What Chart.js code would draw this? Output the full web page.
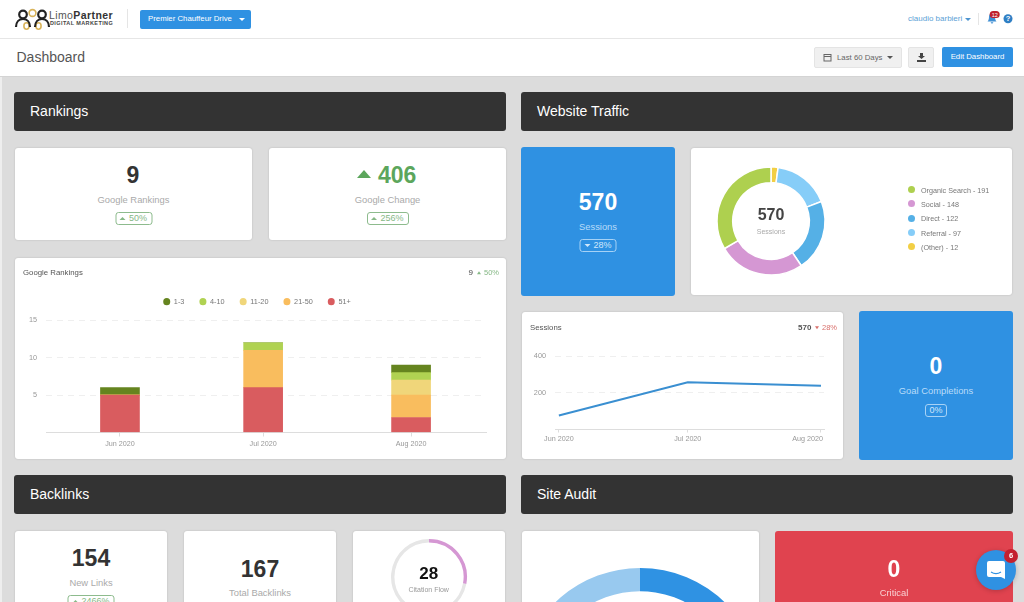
<!DOCTYPE html>
<html lang="en">
  <head>
    <meta charset="UTF-8" />
    <title>Dashboard</title>
    <script src="https://cdn.jsdelivr.net/npm/chart.js"></script>
    <style>
      * { box-sizing: border-box; }
      html, body { margin: 0; height: 100%; overflow: hidden; }
      body {
        width: 1024px;
        height: 602px;
        position: relative;
        background: #dcdcdc;
        font-family: "Liberation Sans", Arial, sans-serif;
        color: #333;
      }
      .abs { position: absolute; }
      .t { position: absolute; white-space: nowrap; line-height: 1; transform: translateY(-50%); }
      .c { transform: translate(-50%, -50%); }
      .bar { position: absolute; height: 39px; background: #333; border-radius: 3px; color: #fff; font-size: 14px; line-height: 39px; padding-left: 16px; }
      .card { position: absolute; background: #fff; border-radius: 3px; box-shadow: 0 0 2px rgba(0,0,0,.18); overflow: hidden; }
      .blue { background: #2f91e2; box-shadow: none; }
      .num { font-size: 23px; font-weight: bold; }
      .lbl { font-size: 9.4px; color: #aaa; }
      .pill { position: absolute; height: 13px; border: 1px solid #8dbb8d; border-radius: 3px; font-size: 9px; line-height: 11px; text-align: center; color: #86b886; transform: translateX(-50%); white-space: nowrap; }
      .pill.w { border-color: #a6d2f6; color: #cfe7fb; }
      .up, .down { display: inline-block; width: 0; height: 0; border-left: 3px solid transparent; border-right: 3px solid transparent; vertical-align: 1px; margin-right: 3px; }
      .up { border-bottom: 3px solid currentColor; }
      .down { border-top: 3px solid currentColor; }
      .btn { position: absolute; border-radius: 2px; }
      #trafficLegend { position: absolute; left: 908px; top: 183.7px; font-size: 7.2px; color: #777; }
      #trafficLegend div { height: 14.3px; line-height: 14.3px; white-space: nowrap; }
      #trafficLegend i { display: inline-block; width: 7px; height: 7px; border-radius: 50%; margin-right: 6px; vertical-align: -0.5px; }
    </style>
  </head>
  <body>
    <!-- top bar -->
    <div class="abs" style="left:0;top:77px;width:1.500px;height:525px;background:#eee"></div>
    <div class="abs" style="left:0;top:0;width:1024px;height:77px;background:#fff;border-bottom:1px solid #d4d4d4"></div>
    <div class="abs" style="left:0;top:38px;width:1024px;height:1px;background:#e6e6e6"></div>
    <svg class="abs" style="left:14px;top:8px" width="37" height="22" viewBox="0 0 37 22">
      <g fill="none" stroke="#d9b45b" stroke-width="1.600">
        <circle cx="18.500" cy="5" r="3.400" />
        <ellipse cx="12.500" cy="18" rx="2.600" ry="3.200" /><ellipse cx="24.500" cy="18" rx="2.600" ry="3.200" />
      </g>
      <g fill="none" stroke="#222" stroke-width="2.200">
        <circle cx="9" cy="6.500" r="3.800" /><circle cx="28" cy="6.500" r="3.800" />
        <path d="M2 19c0-5 3-8 7-8s7 3 7 8" /><path d="M21 19c0-5 3-8 7-8s7 3 7 8" />
      </g>
    </svg>
    <div class="t" style="left:49px;top:15px;font-size:10.500px;color:#555;letter-spacing:.4px">Limo<b style="color:#333">Partner</b></div>
    <div class="t" style="left:50px;top:23.500px;font-size:5.500px;font-weight:bold;color:#444;letter-spacing:.4px">DIGITAL MARKETING</div>
    <div class="abs" style="left:127px;top:9px;width:1px;height:19px;background:#e5e5e5"></div>
    <div class="btn" style="left:140px;top:10px;width:111px;height:18.500px;background:#2f91e2"></div>
    <div class="t" style="left:148px;top:18.700px;font-size:7.800px;color:#fff">Premier Chauffeur Drive</div>
    <div class="abs" style="left:239px;top:18px;border:3px solid transparent;border-top-color:#fff"></div>
    <div class="t" style="left:908px;top:18.700px;font-size:8px;color:#5c9fd6">claudio barbieri</div>
    <div class="abs" style="left:964.500px;top:17.500px;border:3px solid transparent;border-top-color:#4d94cf"></div>
    <div class="abs" style="left:978px;top:13px;width:1px;height:12px;background:#e5e5e5"></div>
    <svg class="abs" style="left:985px;top:10px" width="30" height="16" viewBox="0 0 30 16">
      <path d="M2.500 11.500c1-1 1.500-2.500 1.500-5 0-1.800 1.300-3 3-3s3 1.200 3 3c0 2.500.5 4 1.500 5zM5.700 12.300h2.600a1.300 1.300 0 0 1-2.600 0z" fill="#3f8fd3" />
      <circle cx="23" cy="8.700" r="4.500" fill="#2f7fc4" />
      <text x="23" y="11.400" font-size="7.500" font-weight="bold" text-anchor="middle" fill="#fff" font-family="Liberation Sans">?</text>
      <rect x="4.700" y="1" width="10" height="7" rx="3.500" fill="#c0202c" />
      <text x="9.700" y="6.500" font-size="5.500" text-anchor="middle" fill="#fff" font-family="Liberation Sans">12</text>
    </svg>

    <div class="t" style="left:16.500px;top:57px;font-size:14px;color:#555">Dashboard</div>
    <div class="btn" style="left:814px;top:47px;width:88px;height:21px;background:#f0f0f0;border:1px solid #e4e4e4"></div>
    <svg class="abs" style="left:823px;top:53px" width="9" height="9" viewBox="0 0 9 9">
      <rect x="1" y="1.500" width="7" height="6.500" fill="none" stroke="#666" stroke-width="1" /><line x1="1" y1="3.500" x2="8" y2="3.500" stroke="#666" />
    </svg>
    <div class="t" style="left:837px;top:57.500px;font-size:7.800px;color:#666">Last 60 Days</div>
    <div class="abs" style="left:887px;top:56px;border:3px solid transparent;border-top-color:#555"></div>
    <div class="btn" style="left:908px;top:47px;width:26px;height:21px;background:#f0f0f0;border:1px solid #e4e4e4"></div>
    <svg class="abs" style="left:917px;top:53px" width="9" height="9" viewBox="0 0 9 9">
      <path d="M3 0h3v3h2L4.500 6 1 3h2zM0 7h9v2H0z" fill="#444" />
    </svg>
    <div class="btn" style="left:942px;top:47px;width:71px;height:20px;background:#2f91e2"></div>
    <div class="t c" style="left:977.500px;top:56.500px;font-size:7.800px;color:#fff">Edit Dashboard</div>

    <!-- section bars -->
    <div class="bar" style="left:14px;top:92px;width:492px">Rankings</div>
    <div class="bar" style="left:521px;top:92px;width:492px">Website Traffic</div>
    <div class="bar" style="left:14px;top:475px;width:492px">Backlinks</div>
    <div class="bar" style="left:521px;top:475px;width:492px">Site Audit</div>

    <!-- rankings -->
    <div class="card" style="left:15px;top:148px;width:237px;height:92px"></div>
    <div class="t c num" style="left:133px;top:175px">9</div>
    <div class="t c lbl" style="left:133.500px;top:199.500px">Google Rankings</div>
    <div class="pill" style="left:133.500px;top:212px;width:37px"><span class="up"></span>50%</div>

    <div class="card" style="left:269px;top:148px;width:237px;height:92px"></div>
    <div class="abs" style="left:357px;top:170px;border-left:7.500px solid transparent;border-right:7.500px solid transparent;border-bottom:8px solid #5ca65c"></div>
    <div class="t num" style="left:378px;top:175px;color:#5ca65c">406</div>
    <div class="t c lbl" style="left:387.500px;top:199.500px">Google Change</div>
    <div class="pill" style="left:387.500px;top:212px;width:42px"><span class="up"></span>256%</div>

    <div class="card" style="left:15px;top:258px;width:491px;height:201px">
      <canvas id="rankingsChart" width="491" height="201"></canvas>
    </div>
    <div class="t" style="left:23px;top:272.500px;font-size:7.800px;color:#555">Google Rankings</div>
    <div class="t" style="left:468.500px;top:272.500px;font-size:8px;color:#444">9</div>
    <div class="t" style="left:477px;top:272.500px;font-size:7.500px;color:#86b886"><span class="up" style="border-left-width:2px;border-right-width:2px"></span>50%</div>

    <!-- website traffic -->
    <div class="card blue" style="left:521px;top:147px;width:154px;height:149px"></div>
    <div class="t c num" style="left:598px;top:202px;color:#fff">570</div>
    <div class="t c lbl" style="left:598px;top:226.500px;color:#b9dcf9">Sessions</div>
    <div class="pill w" style="left:598px;top:239px;width:37px"><span class="down"></span>28%</div>

    <div class="card" style="left:691px;top:148px;width:321px;height:147px">
      <canvas id="trafficChart" width="120" height="120" style="position:absolute;left:20px;top:13.300px"></canvas>
    </div>
    <div class="t c" style="left:771px;top:215px;font-size:16px;font-weight:bold;color:#444">570</div>
    <div class="t c" style="left:771px;top:230.500px;font-size:7px;color:#aaa">Sessions</div>
    <div id="trafficLegend"></div>

    <div class="card" style="left:522px;top:312px;width:321px;height:147px">
      <canvas id="sessionsChart" width="321" height="147"></canvas>
    </div>
    <div class="t" style="left:530px;top:327.500px;font-size:7.800px;color:#555">Sessions</div>
    <div class="t" style="left:798px;top:327.500px;font-size:8px;font-weight:bold;color:#555">570</div>
    <div class="t" style="left:815px;top:327.500px;font-size:7.500px;color:#d9706c"><span class="down" style="border-left-width:2px;border-right-width:2px"></span>28%</div>

    <div class="card blue" style="left:859px;top:311px;width:154px;height:149px"></div>
    <div class="t c num" style="left:936px;top:366px;color:#fff">0</div>
    <div class="t c lbl" style="left:936px;top:391px;color:#b9dcf9">Goal Completions</div>
    <div class="pill w" style="left:936px;top:403.500px;width:22px">0%</div>

    <!-- backlinks -->
    <div class="card" style="left:15px;top:531px;width:152px;height:90px"></div>
    <div class="t c num" style="left:91px;top:558px">154</div>
    <div class="t c lbl" style="left:91px;top:582.500px">New Links</div>
    <div class="pill" style="left:91px;top:595px;width:47px"><span class="up"></span>2466%</div>

    <div class="card" style="left:184px;top:531px;width:152px;height:90px"></div>
    <div class="t c num" style="left:260px;top:568.500px">167</div>
    <div class="t c lbl" style="left:260px;top:592.500px">Total Backlinks</div>

    <div class="card" style="left:353px;top:531px;width:152px;height:90px">
      <canvas id="citationChart" width="80" height="80" style="position:absolute;left:35.700px;top:6px"></canvas>
    </div>
    <div class="t c" style="left:428.700px;top:573px;font-size:17px;font-weight:bold;color:#111">28</div>
    <div class="t c" style="left:428.700px;top:588.500px;font-size:7px;color:#999">Citation Flow</div>

    <!-- site audit -->
    <div class="card" style="left:522px;top:531px;width:237px;height:90px">
      <canvas id="auditChart" width="244" height="244" style="position:absolute;left:-3.700px;top:37.300px"></canvas>
    </div>
    <div class="card" style="left:775px;top:531px;width:238px;height:90px;background:#e0434f;box-shadow:none"></div>
    <div class="t c num" style="left:894px;top:568.500px;color:#fff">0</div>
    <div class="t c" style="left:894px;top:593px;font-size:9.400px;color:#f8cfd2">Critical</div>

    <!-- chat bubble -->
    <div class="abs" style="left:976px;top:550px;width:40px;height:40px;border-radius:50%;background:#2f91e2;box-shadow:0 1px 5px rgba(0,0,0,.2)"></div>
    <svg class="abs" style="left:986px;top:560px" width="20" height="20" viewBox="0 0 20 20">
      <path d="M3 1h14a2 2 0 0 1 2 2v16l-4-2H3a2 2 0 0 1-2-2V3a2 2 0 0 1 2-2z" fill="#fff" />
      <path d="M5 12c3 2 7 2 10 0" fill="none" stroke="#2f91e2" stroke-width="1.200" />
    </svg>
    <div class="abs" style="left:1004px;top:549px;width:14px;height:14px;border-radius:50%;background:#c4202f"></div>
    <div class="t c" style="left:1011px;top:556px;font-size:7.500px;font-weight:bold;color:#fff">6</div>

    <script>
      // rankings chart
      const months = ["Jun 2020", "Jul 2020", "Aug 2020"];
      const monthDays = [0, 30, 61]; // days since Jun 1, bars sit on a time-like axis
      const rank1to3 = [1, 0, 1];
      const rank4to10 = [0, 1, 1];
      const rank11to20 = [0, 0, 2];
      const rank21to50 = [0, 5, 3];
      const rank51plus = [5, 6, 2];

      // sessions line
      const sessions = [76, 257, 238];

      // traffic donut, in legend order
      const channels = ["Organic Search", "Social", "Direct", "Referral", "(Other)"];
      const channelSessions = [191, 148, 122, 97, 12];
      const channelColors = ["#aed04f", "#d597d3", "#55b0e6", "#86cdf8", "#f2cf45"];

      // citation flow ring and site audit donut
      const citationFlow = [28, 72];
      const auditSplit = [55, 45];

      const FONT = "'Liberation Sans', Arial, sans-serif";
      Chart.defaults.font.family = FONT;
      Chart.defaults.animation = false;
      Chart.defaults.responsive = false;

      const points = (values) => values.map((v, i) => ({ x: monthDays[i], y: v }));
      const monthTicks = (scale) => {
        scale.ticks = monthDays.map((v) => ({ value: v }));
      };

      // extra gap under the legend
      const legendGap = {
        id: "legendGap",
        beforeInit(chart) {
          const fit = chart.legend.fit;
          chart.legend.fit = function () {
            fit.call(this);
            this.height += 5;
          };
        },
      };

      new Chart(document.getElementById("rankingsChart"), {
        type: "bar",
        data: {
          datasets: [
            { label: "51+", data: points(rank51plus), backgroundColor: "#d95c5f" },
            { label: "21-50", data: points(rank21to50), backgroundColor: "#f9bd5e" },
            { label: "11-20", data: points(rank11to20), backgroundColor: "#f0d67a" },
            { label: "4-10", data: points(rank4to10), backgroundColor: "#b0d252" },
            { label: "1-3", data: points(rank1to3), backgroundColor: "#65841f" },
          ],
        },
        plugins: [legendGap],
        options: {
          barThickness: 39,
          layout: { padding: { top: 25, left: 13, right: 20 } },
          plugins: {
            tooltip: { enabled: false },
            legend: {
              reverse: true,
              labels: {
                usePointStyle: true,
                pointStyle: "circle",
                boxHeight: 5,
                pointStyleWidth: 7,
                padding: 15,
                color: "#777",
                font: { size: 7.3 },
              },
            },
          },
          scales: {
            x: {
              type: "linear",
              stacked: true,
              offset: false,
              min: -15.5,
              max: 76.7,
              afterBuildTicks: monthTicks,
              afterFit: (s) => { s.height = 26.5; },
              grid: { offset: false, drawOnChartArea: false, color: "#ddd", tickLength: 4 },
              border: { color: "#ddd" },
              ticks: {
                color: "#999",
                font: { size: 7.2 },
                autoSkip: false,
                maxRotation: 0,
                callback: (v) => months[monthDays.indexOf(v)],
              },
            },
            y: {
              stacked: true,
              min: 0,
              max: 15,
              afterFit: (s) => { s.width = 18; },
              grid: { color: "#efefef", drawTicks: false },
              border: { display: false, dash: [6, 5] },
              ticks: {
                stepSize: 5,
                color: "#999",
                font: { size: 7.3 },
                padding: 9,
                callback: (v) => (v === 0 ? "" : v),
              },
            },
          },
        },
      });

      // Aug label sits against the right edge in the original, not centred on its tick
      const lastTickLabel = {
        id: "lastTickLabel",
        afterDraw(chart) {
          const x = chart.scales.x;
          const ctx = chart.ctx;
          ctx.save();
          ctx.font = "7.2px " + FONT;
          ctx.fillStyle = "#999";
          ctx.textAlign = "right";
          ctx.textBaseline = "middle";
          ctx.fillText(months[2], x.getPixelForValue(monthDays[2]) + 2, x.top + 9.5);
          ctx.restore();
        },
      };

      new Chart(document.getElementById("sessionsChart"), {
        type: "line",
        data: {
          datasets: [
            {
              data: points(sessions),
              borderColor: "#3a8fd1",
              borderWidth: 2,
              pointRadius: 0,
              tension: 0,
            },
          ],
        },
        plugins: [lastTickLabel],
        options: {
          layout: { padding: { top: 44, right: 19 } },
          plugins: { legend: { display: false }, tooltip: { enabled: false } },
          scales: {
            x: {
              type: "linear",
              min: -0.9,
              max: 61.7,
              afterBuildTicks: monthTicks,
              afterFit: (s) => { s.height = 29.5; },
              grid: { drawOnChartArea: false, color: "#ddd", tickLength: 3 },
              border: { color: "#ddd" },
              ticks: {
                color: "#999",
                font: { size: 7.2 },
                autoSkip: false,
                maxRotation: 0,
                padding: 2,
                callback: (v) => (v === monthDays[2] ? "" : months[monthDays.indexOf(v)]),
              },
            },
            y: {
              min: 0,
              max: 400,
              afterFit: (s) => { s.width = 33; },
              grid: { color: "#efefef", drawTicks: false },
              border: { display: false, dash: [6, 5] },
              ticks: {
                stepSize: 200,
                color: "#999",
                font: { size: 7.3 },
                padding: 9,
                callback: (v) => (v === 0 ? "" : v),
              },
            },
          },
        },
      });

      new Chart(document.getElementById("trafficChart"), {
        type: "doughnut",
        data: {
          labels: channels.slice().reverse(),
          datasets: [
            {
              data: channelSessions.slice().reverse(),
              backgroundColor: channelColors.slice().reverse(),
              borderColor: "#fff",
              borderWidth: 1.5,
            },
          ],
        },
        options: {
          cutout: "71%",
          radius: 54,
          plugins: { legend: { display: false }, tooltip: { enabled: false } },
        },
      });

      document.getElementById("trafficLegend").innerHTML = channels
        .map((name, i) =>
          `<div><i style="background:${channelColors[i]}"></i>${name} - ${channelSessions[i]}</div>`
        )
        .join("");

      new Chart(document.getElementById("citationChart"), {
        type: "doughnut",
        data: {
          datasets: [
            {
              data: citationFlow,
              backgroundColor: ["#d597d3", "#e6e6e6"],
              borderWidth: 0,
            },
          ],
        },
        options: {
          cutout: "91%",
          radius: 38,
          plugins: { legend: { display: false }, tooltip: { enabled: false } },
        },
      });

      new Chart(document.getElementById("auditChart"), {
        type: "doughnut",
        data: {
          datasets: [
            {
              data: auditSplit,
              backgroundColor: ["#2f92e3", "#98c9ef"],
              borderWidth: 0,
            },
          ],
        },
        options: {
          cutout: "81%",
          radius: 122,
          plugins: { legend: { display: false }, tooltip: { enabled: false } },
        },
      });
    </script>
  </body>
</html>
